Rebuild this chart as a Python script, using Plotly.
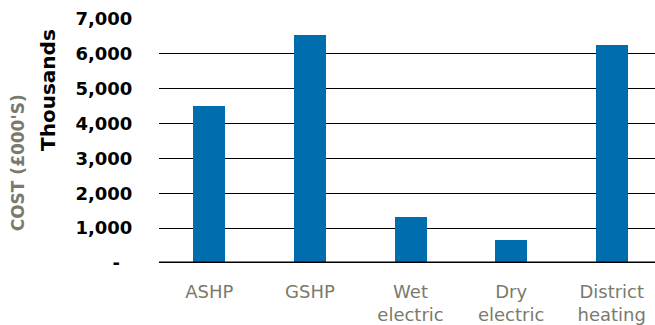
import plotly.graph_objects as go

categories = ["ASHP", "GSHP", "Wet<br>electric", "Dry<br>electric", "District<br>heating"]
costs = [4490, 6545, 1310, 650, 6260]
y_tickvals = [0, 1000, 2000, 3000, 4000, 5000, 6000, 7000]
y_ticktext = ["-\u00a0\u00a0", "1,000", "2,000", "3,000", "4,000", "5,000", "6,000", "7,000"]

W, H = 655, 325
L, R, T, B = 159, 0, 19, 60
pw = W - L - R

fig = go.Figure()
fig.add_trace(go.Bar(
    x=list(range(len(categories))), y=costs,
    width=0.318,
    marker=dict(color="#006EAE", line=dict(width=0)),
))

fig.update_layout(
    width=W, height=H,
    margin=dict(l=L, r=R, t=T, b=B, pad=0),
    plot_bgcolor="white", paper_bgcolor="white",
    showlegend=False,
    font=dict(family="DejaVu Sans"),
    xaxis=dict(
        range=[-0.5, 4.43],
        tickvals=list(range(len(categories))),
        ticktext=categories,
        showgrid=False, zeroline=False, showline=False,
        ticks="outside", ticklen=12, tickcolor="rgba(0,0,0,0)",
        tickfont=dict(family="DejaVu Sans", size=18, color="#7a7a6c"),
    ),
    yaxis=dict(
        range=[0, 7000],
        tickvals=y_tickvals, ticktext=y_ticktext,
        showgrid=True, gridcolor="#000000", gridwidth=1,
        zeroline=False, showline=False,
        ticks="outside", ticklen=22, tickcolor="rgba(0,0,0,0)",
        tickfont=dict(family="DejaVu Sans", size=18, color="#000000", weight="bold"),
    ),
    bargap=0,
)

fig.add_shape(type="line", xref="paper", yref="y", x0=0, x1=1, y0=0, y1=0,
              line=dict(color="#000000", width=3))

fig.add_annotation(
    text="<b>Thousands</b>", textangle=-90,
    xref="paper", yref="paper",
    x=(48.5 - L) / pw, y=(H - B - 91) / (H - T - B),
    xanchor="center", yanchor="middle", showarrow=False,
    font=dict(family="DejaVu Sans", size=20, color="#000000"),
)
fig.add_annotation(
    text="<b>COST (£000'S)</b>", textangle=-90,
    xref="paper", yref="paper",
    x=(17.5 - L) / pw, y=(H - B - 164) / (H - T - B),
    xanchor="center", yanchor="middle", showarrow=False,
    font=dict(family="DejaVu Sans", size=17, color="#7a7a6c"),
)

fig.write_html("out.html")
